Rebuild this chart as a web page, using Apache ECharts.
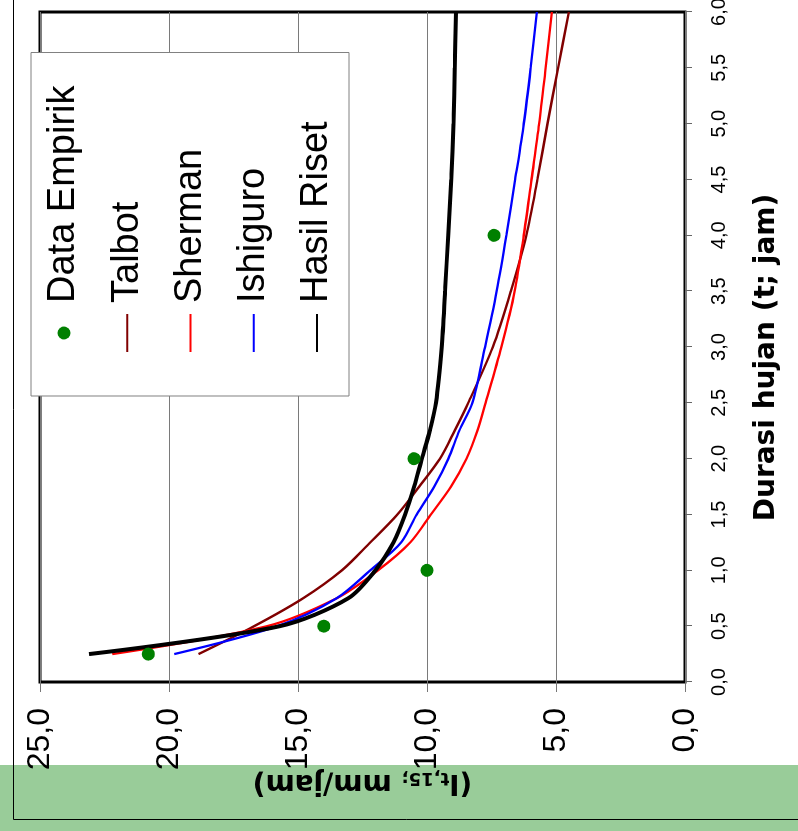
<!DOCTYPE html>
<html>
<head>
<meta charset="utf-8">
<script src="https://cdn.jsdelivr.net/npm/echarts@6/dist/echarts.min.js"></script>
<style>
html,body{margin:0;padding:0;overflow:hidden;background:#fff;width:798px;height:831px;}
#wrap{position:absolute;left:0;top:0;width:831px;height:798px;transform-origin:0 0;transform:translate(0,831px) rotate(-90deg);}
</style>
</head>
<body>
<div id="wrap"></div>
<script>
// Durations (t, jam) at which the model curves are drawn
const durations = [0.25, 0.5, 0.75, 1, 1.25, 1.5, 1.75, 2, 2.25, 2.5, 3, 3.5, 4, 4.5, 5, 5.5, 6];
// Intensity values (It,15, mm/jam)
const talbot     = [18.86, 16.7, 14.8, 13.3, 12.2, 11.15, 10.3, 9.5, 8.93, 8.4, 7.45, 6.75, 6.15, 5.72, 5.33, 4.92, 4.5];
const sherman    = [22.2, 16.2, 13.5, 11.9, 10.65, 9.85, 9.07, 8.47, 8.05, 7.73, 7.12, 6.6, 6.25, 5.95, 5.65, 5.4, 5.16];
const ishiguro   = [19.8, 15.8, 13.5, 12.2, 11.0, 10.4, 9.72, 9.17, 8.75, 8.24, 7.75, 7.3, 6.92, 6.58, 6.25, 5.98, 5.74];
const hasilRiset = [23.1, 15.7, 13.05, 12.0, 11.3, 10.85, 10.5, 10.2, 9.89, 9.65, 9.43, 9.3, 9.18, 9.06, 8.97, 8.92, 8.88];
// Empirical data
const empirikDurations = [0.25, 0.5, 1, 2, 4];
const empirikValues    = [20.8, 14.0, 10.0, 10.5, 7.4];
// Axis ticks
const durationTicks = { min: 0, max: 6, interval: 0.5 };
const intensityTicks = { min: 0, max: 25, interval: 5 };
const legendNames = ['Data Empirik', 'Talbot', 'Sherman', 'Ishiguro', 'Hasil Riset'];

const pair = (xs, ys) => xs.map((x, i) => [x, ys[i]]);
const fmt = v => v.toFixed(1).replace('.', ',');

const chart = echarts.init(document.getElementById('wrap'), null, { renderer: 'canvas', width: 831, height: 798 });

const lineSeries = (name, values, color, width) => ({
  name, type: 'line', data: pair(durations, values), symbol: 'none', showSymbol: false,
  smooth: 0.3, color, itemStyle: { color }, lineStyle: { color, width }, z: 3
});

chart.setOption({
  animation: false,
  backgroundColor: '#fff',
  graphic: [
    { type: 'rect', z: -10, shape: { x: 0, y: 0, width: 66, height: 798 }, style: { fill: '#99CC99' } },
    { type: 'rect', z: 1, shape: { x: 11.5, y: 13.5, width: 900, height: 900 }, style: { fill: 'none', stroke: '#000', lineWidth: 1 } }
  ],
  grid: {
    left: 149, right: 12, top: 40, bottom: 113,
    show: true, borderColor: '#000', borderWidth: 3, backgroundColor: 'transparent',
    containLabel: false, outerBoundsMode: 'none'
  },
  legend: {
    orient: 'vertical', left: 435, top: 31,
    padding: [13, 33, 12, 43], itemGap: 23.25, itemWidth: 38, itemHeight: 13,
    backgroundColor: '#fff', borderColor: '#808080', borderWidth: 1, borderRadius: 0,
    textStyle: { fontFamily: 'Liberation Sans', fontSize: 38, color: '#000', lineHeight: 40, padding: [0, 0, 0, 6] },
    data: legendNames.map((name, i) => i === 0
      ? { name, itemStyle: { opacity: 1 } }
      : { name, itemStyle: { opacity: 0 } }),
    z: 10, selectedMode: false
  },
  xAxis: {
    type: 'value', min: durationTicks.min, max: durationTicks.max, interval: durationTicks.interval,
    position: 'bottom',
    axisLine: { show: false },
    axisTick: { show: true, inside: false, length: 7, lineStyle: { color: '#666', width: 1 } },
    splitLine: { show: false },
    axisLabel: { formatter: fmt, fontFamily: 'Liberation Sans', fontSize: 20, color: '#000', margin: 24, showMinLabel: true, showMaxLabel: true },
    name: 'Durasi hujan (t; jam)', nameLocation: 'middle', nameGap: 68, nameMoveOverlap: false,
    nameTextStyle: { fontFamily: 'DejaVu Sans', fontWeight: 'bold', fontSize: 28, color: '#000', padding: [0, 21, 0, 0] }
  },
  yAxis: {
    type: 'value', min: intensityTicks.min, max: intensityTicks.max, interval: intensityTicks.interval,
    position: 'left',
    axisLine: { show: false },
    axisTick: { show: true, inside: false, length: 10, lineStyle: { color: '#777', width: 1 } },
    splitLine: { show: true, lineStyle: { color: '#7a7a7a', width: 1 } },
    axisLabel: { formatter: fmt, fontFamily: 'Liberation Sans', fontSize: 32, color: '#000', margin: 26, showMinLabel: true, showMaxLabel: true },
    name: '{n|(I}{s|t,15;}{n| mm/jam)}', nameLocation: 'middle', nameRotate: 90, nameGap: 86, nameMoveOverlap: false,
    nameTextStyle: {
      color: '#000',
      rich: {
        n: { fontFamily: 'DejaVu Sans', fontWeight: 'bold', fontSize: 28, color: '#000' },
        s: { fontFamily: 'DejaVu Sans', fontWeight: 'bold', fontSize: 18, color: '#000', padding: [9, 0, 0, 0] }
      }
    }
  },
  series: [
    { name: 'Data Empirik', type: 'scatter', data: pair(empirikDurations, empirikValues), symbol: 'circle', symbolSize: 13, color: '#008000', itemStyle: { color: '#008000', opacity: 1 }, z: 4 },
    lineSeries('Talbot', talbot, '#800000', 2.4),
    lineSeries('Sherman', sherman, '#FF0000', 2.3),
    lineSeries('Ishiguro', ishiguro, '#0000FF', 2.3),
    lineSeries('Hasil Riset', hasilRiset, '#000000', 4)
  ]
});
</script>
</body>
</html>
